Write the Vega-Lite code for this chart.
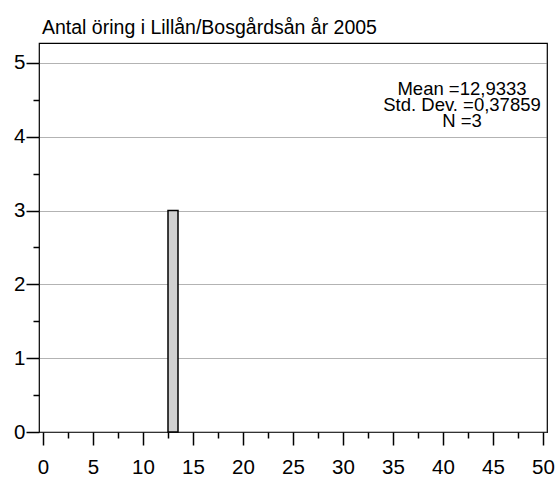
{
  "$schema": "https://vega.github.io/schema/vega-lite/v6.json",
  "width": 508,
  "height": 389,
  "padding": {"left": 39, "top": 43, "right": 10, "bottom": 47},
  "autosize": {"type": "none"},
  "background": "white",
  "config": {
    "view": {"stroke": "black", "strokeWidth": 1.2},
    "font": "Liberation Sans"
  },
  "title": {
    "text": "Antal öring i Lillån/Bosgårdsån år 2005",
    "anchor": "start",
    "frame": "group",
    "fontSize": 19.5,
    "fontWeight": "normal",
    "font": "Liberation Sans",
    "color": "black",
    "offset": 5,
    "dx": 3
  },
  "resolve": {"axis": {"x": "independent", "y": "independent"}},
  "layer": [
    {
      "data": {"values": [{"bin_start": 12.5, "bin_end": 13.5, "count": 3}]},
      "mark": {"type": "rect", "fill": "#d0d0d0", "stroke": "black", "strokeWidth": 1.5},
      "encoding": {
        "x": {
          "field": "bin_start", "type": "quantitative",
          "scale": {"domain": [-0.4, 50.4], "nice": false, "zero": false},
          "axis": {
            "orient": "bottom",
            "title": null,
            "values": [0, 5, 10, 15, 20, 25, 30, 35, 40, 45, 50],
            "format": "d",
            "tickSize": 13,
            "tickColor": "black", "tickWidth": 1.5,
            "labelFontSize": 20.5, "labelColor": "black", "labelFont": "Liberation Sans",
            "labelPadding": 12, "labelFlush": false, "labelOverlap": false,
            "domain": false, "grid": false
          }
        },
        "x2": {"field": "bin_end"},
        "y": {
          "field": "count", "type": "quantitative",
          "scale": {"domain": [0, 5.27], "nice": false},
          "axis": {
            "orient": "left",
            "title": null,
            "values": [0, 1, 2, 3, 4, 5],
            "format": "d",
            "tickSize": 13,
            "tickColor": "black", "tickWidth": 1.5,
            "labelFontSize": 20.5, "labelColor": "black", "labelFont": "Liberation Sans",
            "labelPadding": 1, "labelFlush": false, "labelOverlap": false,
            "domain": false,
            "grid": true,
            "gridColor": "#666666",
            "gridDash": [1, 1],
            "gridWidth": 1
          }
        },
        "y2": {"datum": 0}
      }
    },
    {
      "data": {"values": [
        {"label": "Mean =12,9333", "x": 41.9, "y": 4.65},
        {"label": "Std. Dev. =0,37859", "x": 41.9, "y": 4.43},
        {"label": "N =3", "x": 41.9, "y": 4.22}
      ]},
      "mark": {"type": "text", "fontSize": 18.5, "font": "Liberation Sans", "color": "black", "align": "center", "baseline": "middle"},
      "encoding": {
        "x": {
          "field": "x", "type": "quantitative",
          "scale": {"domain": [-0.4, 50.4], "nice": false, "zero": false},
          "axis": {
            "orient": "bottom",
            "title": null,
            "values": [2.5, 7.5, 12.5, 17.5, 22.5, 27.5, 32.5, 37.5, 42.5, 47.5],
            "tickSize": 6,
            "tickColor": "black", "tickWidth": 1.5,
            "labels": false,
            "domain": false, "grid": false
          }
        },
        "y": {
          "field": "y", "type": "quantitative",
          "scale": {"domain": [0, 5.27], "nice": false},
          "axis": {
            "orient": "left",
            "title": null,
            "values": [0.5, 1.5, 2.5, 3.5, 4.5],
            "tickSize": 6,
            "tickColor": "black", "tickWidth": 1.5,
            "labels": false,
            "domain": false, "grid": false
          }
        },
        "text": {"field": "label"}
      }
    }
  ]
}
